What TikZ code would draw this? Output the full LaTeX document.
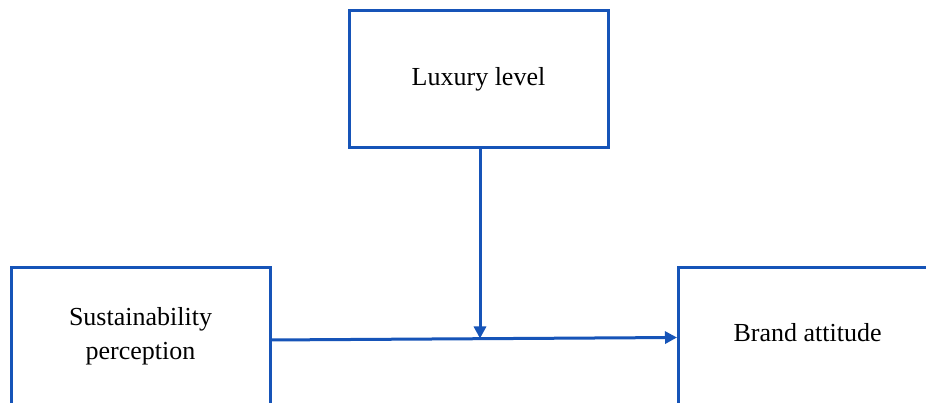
\documentclass[tikz,border=0pt]{standalone}
\usepackage{fontspec}
\setmainfont{Liberation Serif}
\usetikzlibrary{arrows.meta}
\definecolor{boxblue}{RGB}{22,84,184}
\tikzset{
  concept/.style={draw=boxblue, line width=3pt, minimum width=259pt, minimum height=137pt,
    inner sep=0pt, align=center, font=\fontsize{26}{34}\selectfont},
  link/.style={draw=boxblue, line width=3pt, -{Triangle[length=12pt,width=12pt]}}
}
\begin{document}
\begin{tikzpicture}[x=1pt,y=1pt]
\useasboundingbox (0,0) rectangle (926,403);
\clip (0,0) rectangle (926,403);
\fill[white] (0,0) rectangle (926,403);
\node[concept] (luxury) at (478.5,323.5) {Luxury level};
\node[concept] (sustain) at (140.5,66.5) {Sustainability\\perception};
\node[concept, text height=18pt, text depth=7pt] (brand) at (807.5,66.5) {Brand attitude};
\coordinate (start) at (270,63);
\coordinate (finish) at (677,65.5);
\coordinate (meet) at (480,64.5);
\draw[link] (start) -- (finish);
\draw[link] (luxury.south -| meet) -- (meet);
\end{tikzpicture}
\end{document}
